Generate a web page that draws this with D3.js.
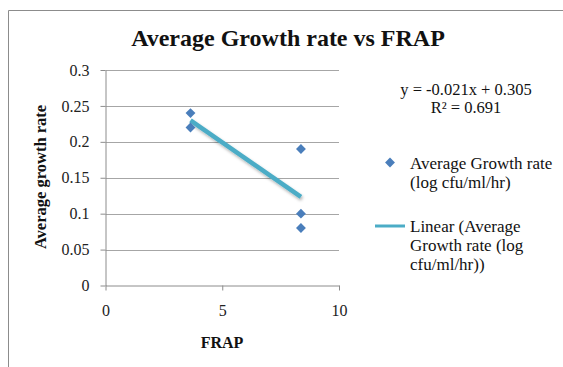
<!DOCTYPE html>
<html><head><meta charset="utf-8">
<script src="https://cdn.jsdelivr.net/npm/d3@7"></script>
<style>body{margin:0;background:#fff}svg{display:block}text{font-family:"Liberation Serif","Times New Roman",serif}</style>
</head><body>
<script>
const title = "Average Growth rate vs FRAP";
const xTitle = "FRAP";
const yTitle = "Average growth rate";
const frap = [3.64, 3.64, 8.37, 8.37, 8.37];
const growth = [0.24, 0.22, 0.19, 0.10, 0.08];
const xTicks = [0, 5, 10];
const yTicks = [0, 0.05, 0.1, 0.15, 0.2, 0.25, 0.3];
const eqText = "y = -0.021x + 0.305";
const r2Text = "R² = 0.691";
const legendSeries = ["Average Growth rate", "(log cfu/ml/hr)"];
const legendTrend = ["Linear (Average", "Growth rate (log", "cfu/ml/hr))"];

const W = 563, H = 367;
const svg = d3.select("body").append("svg").attr("width", W).attr("height", H);
svg.append("path").attr("d", `M8.5,${H}V10.5H${W}`).attr("fill","none").attr("stroke","#8c8c8c").attr("stroke-width",1);

const x = d3.scaleLinear().domain([0,10]).range([105.5,339]);
const y = d3.scaleLinear().domain([0,0.3]).range([285.5,70]);

svg.append("g").selectAll("line").data(yTicks.filter(d=>d>0)).join("line")
  .attr("x1", x(0)).attr("x2", x(10)).attr("y1", d=>Math.round(y(d))+0.5).attr("y2", d=>Math.round(y(d))+0.5)
  .attr("stroke","#a6a6a6").attr("stroke-width",1);

const yAxis = svg.append("g").attr("transform",`translate(${x(0)},0)`)
  .call(d3.axisLeft(y).tickValues(yTicks).tickFormat(d=>String(+d.toFixed(2))).tickSize(5).tickSizeOuter(0).tickPadding(11));
const xAxis = svg.append("g").attr("transform",`translate(0,${y(0)})`)
  .call(d3.axisBottom(x).tickValues(xTicks).tickSize(5).tickSizeOuter(0).tickPadding(14));
[yAxis, xAxis].forEach(g=>{
  g.selectAll("path,line").attr("stroke","#8c8c8c");
  g.selectAll("text").attr("font-size",16).attr("fill","#222");
});

// trendline: least squares fit of the points
const mx = d3.mean(frap), my = d3.mean(growth);
const slope = d3.sum(frap.map((v,i)=>(v-mx)*(growth[i]-my))) / d3.sum(frap.map(v=>(v-mx)**2));
const icpt = my - slope*mx;
const [x0, x1] = d3.extent(frap);
const defs = svg.append("defs");
const f = defs.append("filter").attr("id","sh").attr("x","-20%").attr("y","-20%").attr("width","140%").attr("height","160%");
f.append("feDropShadow").attr("dx",1).attr("dy",2).attr("stdDeviation",1.5).attr("flood-color","#000").attr("flood-opacity",0.3);
svg.append("line").attr("x1",x(x0)).attr("y1",y(slope*x0+icpt)).attr("x2",x(x1)).attr("y2",y(slope*x1+icpt))
  .attr("stroke","#4bacc6").attr("stroke-width",4.5).attr("filter","url(#sh)");

const diamond = d3.symbol().type(d3.symbolDiamond2).size(62);
svg.append("g").selectAll("path").data(frap.map((v,i)=>[v,growth[i]])).join("path")
  .attr("d", diamond).attr("transform", d=>`translate(${x(d[0])},${y(d[1])})`)
  .attr("fill","#4a7ebb");

svg.append("text").attr("x",288).attr("y",46).attr("text-anchor","middle").attr("font-size",24).attr("font-weight","bold").attr("fill","#111").text(title);
svg.append("text").attr("x",222).attr("y",348).attr("text-anchor","middle").attr("font-size",16).attr("font-weight","bold").attr("fill","#111").text(xTitle);
svg.append("text").attr("transform","translate(46,177) rotate(-90)").attr("text-anchor","middle").attr("font-size",16.5).attr("font-weight","bold").attr("fill","#111").text(yTitle);

svg.append("text").attr("x",466).attr("y",95).attr("text-anchor","middle").attr("font-size",16.5).attr("fill","#111").text(eqText);
svg.append("text").attr("x",466).attr("y",112.5).attr("text-anchor","middle").attr("font-size",16.5).attr("fill","#111").text(r2Text);

svg.append("path").attr("d",diamond).attr("transform","translate(390,162.5)").attr("fill","#4a7ebb");
svg.append("g").selectAll("text").data(legendSeries).join("text")
  .attr("x",410).attr("y",(d,i)=>169+i*18.5).attr("font-size",17).attr("fill","#111").text(d=>d);
svg.append("line").attr("x1",375).attr("x2",405).attr("y1",226).attr("y2",226).attr("stroke","#4bacc6").attr("stroke-width",3);
svg.append("g").selectAll("text").data(legendTrend).join("text")
  .attr("x",410).attr("y",(d,i)=>232+i*19).attr("font-size",17).attr("fill","#111").text(d=>d);
</script>
</body></html>
